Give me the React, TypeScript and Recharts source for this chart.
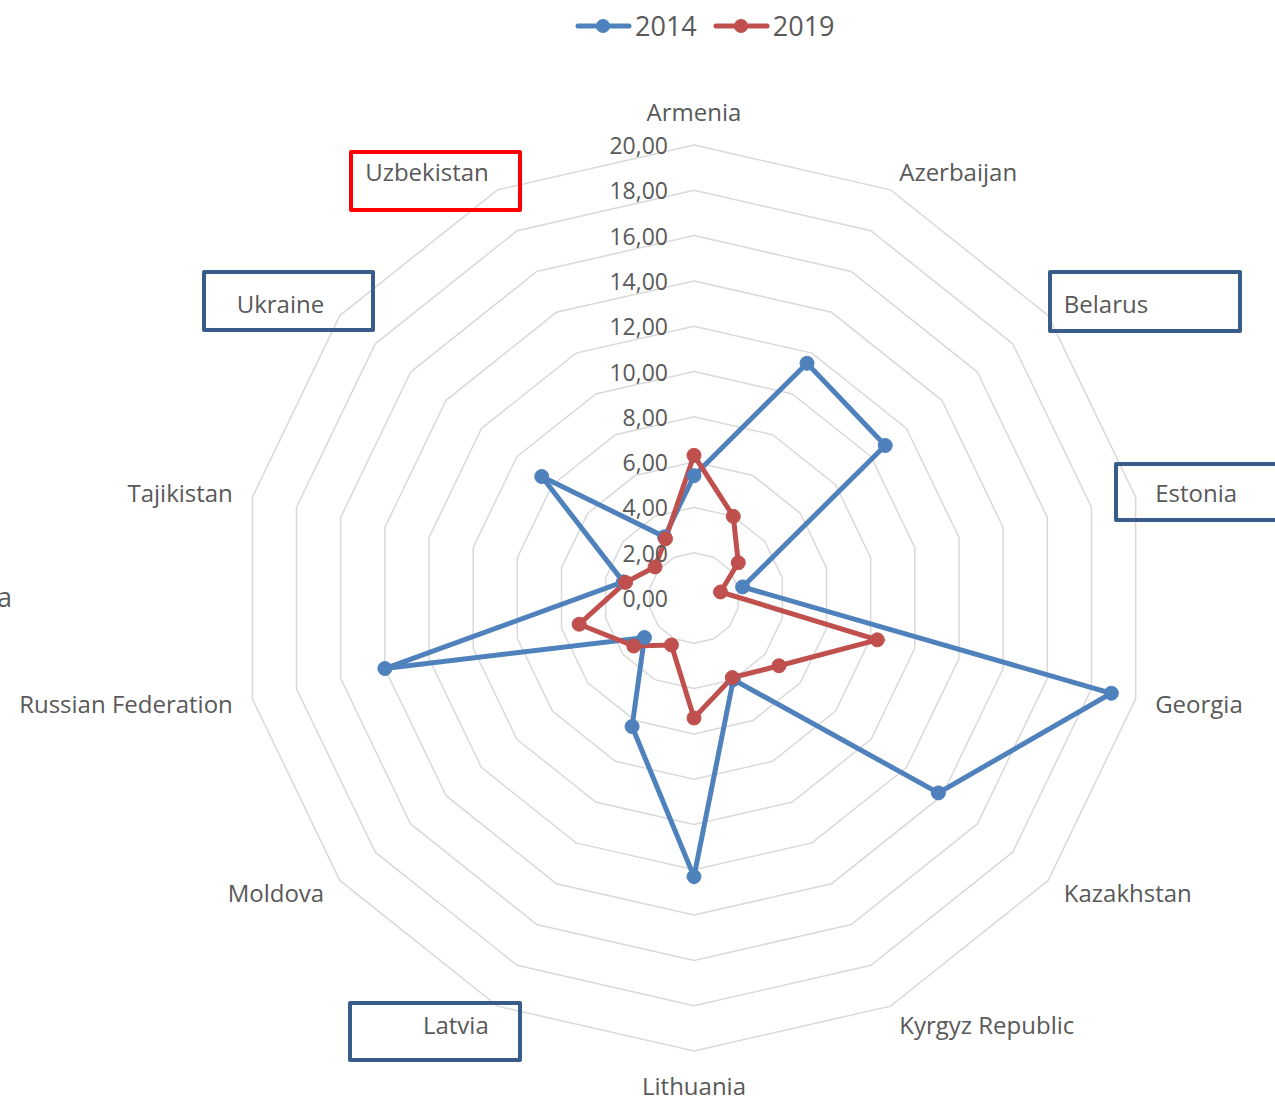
import React from "react"
import { Legend, PolarAngleAxis, PolarGrid, PolarRadiusAxis, Radar, RadarChart } from "recharts"

const countries = [
  "Armenia",
  "Azerbaijan",
  "Belarus",
  "Estonia",
  "Georgia",
  "Kazakhstan",
  "Kyrgyz Republic",
  "Lithuania",
  "Latvia",
  "Moldova",
  "Russian Federation",
  "Tajikistan",
  "Ukraine",
  "Uzbekistan",
]
const values2014 = [5.4, 11.5, 10.8, 2.2, 18.9, 13.8, 4.0, 12.3, 6.3, 2.8, 14.0, 3.2, 8.6, 3.0]
const values2019 = [6.3, 4.0, 2.5, 1.2, 8.3, 4.8, 3.9, 5.3, 2.3, 3.4, 5.2, 3.1, 2.2, 2.9]
const radiusTicks = [0, 2, 4, 6, 8, 10, 12, 14, 16, 18, 20]

// labels that carry a frame in the original slide
const framedRed = ["Uzbekistan"]
const framedBlue = ["Ukraine", "Belarus", "Estonia", "Latvia"]

const BLUE = "#4F81BD"
const RED = "#C0504D"
const TEXT = "#595959"
const FONT = "'Open Sans', sans-serif"

const CX = 694
const CY = 598
const RADIUS = 453

const data = countries.map((country, i) => ({
  country,
  y2014: values2014[i],
  y2019: values2019[i],
}))

function AngleTick(props: any) {
  const { index, payload } = props
  const angle = (index * 2 * Math.PI) / countries.length
  const s = Math.sin(angle)
  const c = Math.cos(angle)
  const r = RADIUS + 20
  let x = CX + r * s
  let y = CY - r * c
  let anchor = "middle"
  if (s > 0.1) anchor = "start"
  else if (s < -0.1) anchor = "end"
  else y -= c * 14
  return (
    <text x={x} y={y} textAnchor={anchor} dominantBaseline="central" fill={TEXT} fontSize={24} fontFamily={FONT}>
      {payload.value}
    </text>
  )
}

function RadiusTick(props: any) {
  const { x, y, payload } = props
  return (
    <text x={x - 26} y={y} textAnchor="end" dominantBaseline="central" fill={TEXT} fontSize={23} fontFamily={FONT}>
      {Number(payload.value).toFixed(2).replace(".", ",")}
    </text>
  )
}

function LegendContent() {
  const items = [
    { label: "2014", color: BLUE },
    { label: "2019", color: RED },
  ]
  return (
    <div style={{ display: "flex", alignItems: "center", gap: 16 }}>
      {items.map((it) => (
        <div key={it.label} style={{ display: "flex", alignItems: "center" }}>
          <svg width={57} height={20}>
            <line x1={3} y1={10} x2={54} y2={10} stroke={it.color} strokeWidth={5} strokeLinecap="round" />
            <circle cx={28} cy={10} r={7} fill={it.color} />
          </svg>
          <span style={{ fontFamily: FONT, fontSize: 27, color: TEXT, marginLeft: 3 }}>{it.label}</span>
        </div>
      ))}
    </div>
  )
}

function Frame({ left, top, width, height, color }: any) {
  return (
    <div
      style={{
        position: "absolute",
        left,
        top,
        width,
        height,
        boxSizing: "border-box",
        border: `4px solid ${color}`,
        borderRadius: 2,
        pointerEvents: "none",
      }}
    />
  )
}

export default function App() {
  return (
    <div style={{ position: "absolute", left: 0, top: 0, width: 1275, height: 1098, overflow: "hidden", background: "#fff" }}>
      <RadarChart width={1275} height={1098} data={data} cx={CX} cy={CY} outerRadius={RADIUS} margin={{ top: 0, right: 0, bottom: 0, left: 0 }}>
        <PolarGrid gridType="polygon" radialLines={false} stroke="#D9D9D9" strokeWidth={1.5} />
        <PolarAngleAxis dataKey="country" tick={<AngleTick />} tickLine={false} axisLine={false} />
        <PolarRadiusAxis
          angle={90}
          domain={[0, 20]}
          ticks={radiusTicks}
          tickCount={11}
          tick={<RadiusTick />}
          axisLine={false}
          tickLine={false}
        />
        <Radar
          name="2014"
          dataKey="y2014"
          stroke={BLUE}
          strokeWidth={5}
          fill="none"
          fillOpacity={0}
          dot={{ r: 7, fill: BLUE, stroke: BLUE, strokeWidth: 1, fillOpacity: 1 }}
          isAnimationActive={false}
        />
        <Radar
          name="2019"
          dataKey="y2019"
          stroke={RED}
          strokeWidth={5}
          fill="none"
          fillOpacity={0}
          dot={{ r: 7, fill: RED, stroke: RED, strokeWidth: 1, fillOpacity: 1 }}
          isAnimationActive={false}
        />
        <Legend verticalAlign="top" content={<LegendContent />} wrapperStyle={{ top: 7, left: 575, width: "auto" }} />
      </RadarChart>

      <span style={{ position: "absolute", left: -3, top: 578, fontFamily: FONT, fontSize: 27, color: TEXT }}>a</span>

      {framedRed.includes("Uzbekistan") && <Frame left={349} top={150} width={173} height={62} color="#FF0000" />}
      {framedBlue.includes("Ukraine") && <Frame left={202} top={270} width={173} height={62} color="#385D8A" />}
      {framedBlue.includes("Belarus") && <Frame left={1048} top={270} width={194} height={63} color="#385D8A" />}
      {framedBlue.includes("Estonia") && <Frame left={1114} top={462} width={180} height={60} color="#385D8A" />}
      {framedBlue.includes("Latvia") && <Frame left={348} top={1001} width={174} height={61} color="#385D8A" />}
    </div>
  )
}
